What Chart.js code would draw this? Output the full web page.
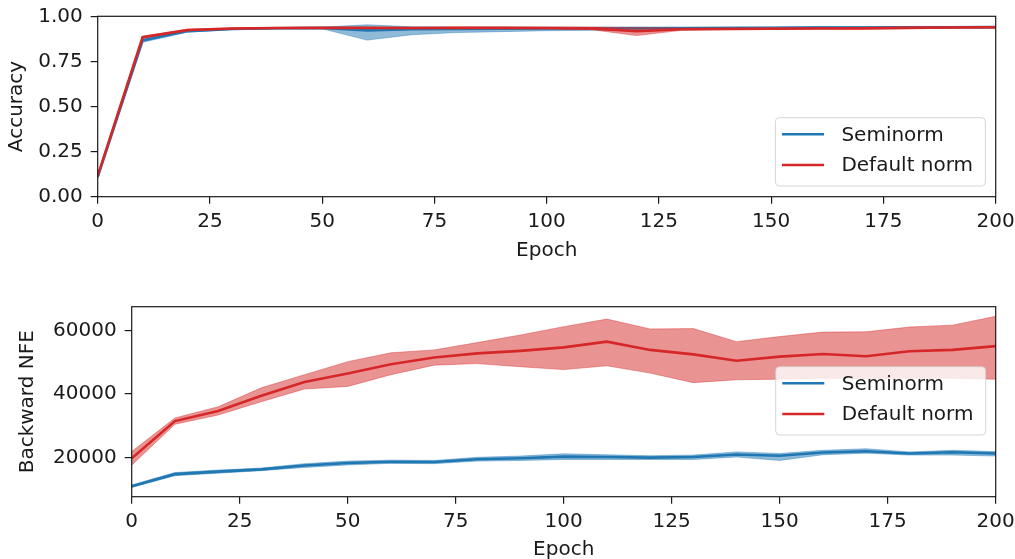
<!DOCTYPE html>
<html>
<head>
<meta charset="utf-8">
<script src="https://cdn.jsdelivr.net/npm/chart.js@4/dist/chart.umd.min.js"></script>
<style>
  html, body { margin: 0; padding: 0; background: #fff; }
  .wrap { position: absolute; left: 0; width: 1015px; }
  #top { top: 0; height: 270px; }
  #bottom { top: 280px; height: 279px; }
</style>
</head>
<body>
<div class="wrap" id="top"><canvas id="acc" width="1015" height="270"></canvas></div>
<div class="wrap" id="bottom"><canvas id="nfe" width="1015" height="279"></canvas></div>
<script>
const epochs = [0, 10, 20, 30, 40, 50, 60, 70, 80, 90, 100, 110, 120, 130, 140, 150, 160, 170, 180, 190, 200];
const seriesNames = ['Seminorm', 'Default norm'];

// accuracy (mean and band)
const accSemiMean  = [0.110, 0.866, 0.918, 0.930, 0.934, 0.935, 0.922, 0.928, 0.930, 0.931, 0.932, 0.932, 0.934, 0.934, 0.935, 0.935, 0.937, 0.938, 0.939, 0.939, 0.940];
const accSemiLower = [0.100, 0.856, 0.912, 0.926, 0.930, 0.931, 0.868, 0.898, 0.910, 0.915, 0.920, 0.922, 0.926, 0.928, 0.929, 0.930, 0.932, 0.933, 0.935, 0.935, 0.936];
const accSemiUpper = [0.120, 0.876, 0.924, 0.934, 0.938, 0.940, 0.953, 0.942, 0.940, 0.940, 0.940, 0.940, 0.941, 0.941, 0.941, 0.942, 0.943, 0.943, 0.944, 0.944, 0.944];
const accDefMean   = [0.115, 0.884, 0.924, 0.932, 0.935, 0.936, 0.936, 0.935, 0.936, 0.936, 0.935, 0.933, 0.917, 0.928, 0.930, 0.931, 0.932, 0.933, 0.936, 0.938, 0.939];
const accDefLower  = [0.105, 0.878, 0.919, 0.928, 0.931, 0.932, 0.932, 0.931, 0.932, 0.932, 0.930, 0.926, 0.893, 0.922, 0.926, 0.927, 0.928, 0.929, 0.932, 0.934, 0.935];
const accDefUpper  = [0.125, 0.890, 0.929, 0.936, 0.939, 0.940, 0.940, 0.939, 0.940, 0.940, 0.940, 0.940, 0.938, 0.935, 0.935, 0.936, 0.937, 0.938, 0.940, 0.942, 0.943];

// backward NFE (mean and band)
const nfeSemiMean  = [11000, 14800, 15600, 16300, 17500, 18300, 18700, 18600, 19500, 19800, 20300, 20200, 20000, 20200, 21000, 20600, 21600, 22000, 21300, 21700, 21300];
const nfeSemiLower = [10600, 14300, 15100, 15900, 16900, 17700, 18200, 18100, 18900, 19100, 19400, 19400, 19400, 19400, 20200, 19100, 20900, 21400, 20800, 20800, 20500];
const nfeSemiUpper = [11400, 15300, 16100, 16700, 18100, 18900, 19200, 19100, 20100, 20500, 21200, 20900, 20600, 20800, 21800, 21300, 22300, 22800, 21800, 22300, 21900];
const nfeDefMean   = [19800, 31500, 34700, 39500, 43800, 46500, 49400, 51500, 52800, 53600, 54700, 56500, 53900, 52500, 50500, 51800, 52600, 51900, 53500, 53900, 55100];
const nfeDefLower  = [17600, 30500, 33400, 37600, 41600, 42400, 46100, 49100, 49600, 48600, 47700, 48900, 46600, 43600, 44500, 44700, 45000, 44900, 45000, 45000, 44700];
const nfeDefUpper  = [21900, 32500, 36000, 42000, 46100, 50200, 53000, 53900, 56200, 58600, 61200, 63600, 60500, 60600, 56500, 58100, 59500, 59600, 61100, 61700, 64500];

const epochTicks = [0, 25, 50, 75, 100, 125, 150, 175, 200];
const accTicks = [0, 0.25, 0.5, 0.75, 1];
const nfeTicks = [20000, 40000, 60000];

const BLUE = '#1f77b4', RED = '#d62728';
const BLUE_A = 'rgba(31,119,180,0.5)', RED_A = 'rgba(214,39,40,0.5)';
const INK = '#1a1a1a';
const FONT = { family: "'DejaVu Sans', sans-serif", size: 20 };

Chart.defaults.font.family = FONT.family;
Chart.defaults.font.size = FONT.size;
Chart.defaults.color = INK;

const pts = arr => epochs.map((e, i) => ({ x: e, y: arr[i] }));

function band(lower, upper, fillColor, order) {
  return [
    { label: '', data: pts(upper), borderColor: fillColor, borderWidth: 0.8, backgroundColor: fillColor, fill: '+1', pointRadius: 0, order },
    { label: '', data: pts(lower), borderColor: fillColor, borderWidth: 0.8, fill: false, pointRadius: 0, order }
  ];
}

function mean(label, arr, color, order) {
  return { label, data: pts(arr), borderColor: color, backgroundColor: color, borderWidth: 2.6, fill: false, pointRadius: 0, order };
}

// frame around the plot, like matplotlib spines
const frame = {
  id: 'frame',
  afterDatasetsDraw(chart) {
    const { ctx, chartArea: a } = chart;
    ctx.save();
    ctx.strokeStyle = INK;
    ctx.lineWidth = 1.2;
    ctx.strokeRect(a.left, a.top, a.right - a.left, a.bottom - a.top);
    ctx.restore();
  }
};

// matplotlib-looking legend inside the axes
const boxLegend = {
  id: 'boxLegend',
  afterDraw(chart, args, opts) {
    const { ctx, chartArea: a } = chart;
    const items = chart.data.datasets.filter(d => d.label);
    const w = 210, h = 68.3, r = 4;
    const x = a.right - opts.right - w;
    const y = opts.top != null ? a.top + opts.top : a.bottom - opts.bottom - h;
    ctx.save();
    ctx.beginPath();
    ctx.roundRect(x, y, w, h, r);
    ctx.fillStyle = 'rgba(255,255,255,0.8)';
    ctx.fill();
    ctx.strokeStyle = 'rgba(204,204,204,0.8)';
    ctx.lineWidth = 1;
    ctx.stroke();
    ctx.font = `${FONT.size}px ${FONT.family}`;
    ctx.textBaseline = 'middle';
    ctx.fillStyle = INK;
    items.forEach((d, i) => {
      const cy = y + 16.6 + i * 30.7;
      ctx.beginPath();
      ctx.moveTo(x + 6.6, cy);
      ctx.lineTo(x + 48.6, cy);
      ctx.strokeStyle = d.borderColor;
      ctx.lineWidth = 2.6;
      ctx.stroke();
      ctx.fillText(d.label, x + 66, cy + 1);
    });
    ctx.restore();
  }
};

function tickGrid() {
  return { display: true, drawOnChartArea: false, drawTicks: true, tickLength: 7, color: INK, lineWidth: 1.2 };
}

function makeChart(id, datasets, cfg) {
  return new Chart(document.getElementById(id), {
    type: 'line',
    data: { datasets },
    plugins: [frame, boxLegend],
    options: {
      responsive: false,
      animation: false,
      devicePixelRatio: 1,
      layout: { padding: { top: cfg.top, right: 19.3, left: 0, bottom: 0 } },
      plugins: {
        legend: { display: false },
        tooltip: { enabled: false },
        boxLegend: cfg.legend
      },
      scales: {
        x: {
          type: 'linear',
          min: 0,
          max: 200,
          afterBuildTicks: s => { s.ticks = epochTicks.map(v => ({ value: v })); },
          afterFit: s => { s.height = cfg.xHeight; s.paddingLeft = 0; s.paddingRight = 0; },
          border: { display: false },
          grid: tickGrid(),
          ticks: { padding: 6, color: INK, maxRotation: 0 },
          title: { display: true, text: 'Epoch', color: INK, font: { lineHeight: 1 }, padding: { top: 0, bottom: cfg.xTitlePad } }
        },
        y: {
          min: cfg.yMin,
          max: cfg.yMax,
          afterBuildTicks: s => { s.ticks = cfg.yTicks.map(v => ({ value: v })); },
          afterFit: s => { s.width = cfg.yWidth; s.paddingTop = 0; s.paddingBottom = 0; },
          border: { display: false },
          grid: tickGrid(),
          ticks: { padding: 8, color: INK, callback: cfg.yFormat },
          title: { display: true, text: cfg.yTitle, color: INK, padding: { top: cfg.yTitlePad, bottom: 0 } }
        }
      }
    }
  });
}

makeChart('acc', [
  mean(seriesNames[0], accSemiMean, BLUE, 4),
  ...band(accSemiLower, accSemiUpper, BLUE_A, 3),
  mean(seriesNames[1], accDefMean, RED, 2),
  ...band(accDefLower, accDefUpper, RED_A, 1)
], {
  top: 16.3, xHeight: 73.3, yWidth: 97.7, xTitlePad: 9, yTitlePad: 4.7,
  yMin: 0, yMax: 1, yTicks: accTicks, yTitle: 'Accuracy',
  yFormat: v => Number(v).toFixed(2),
  legend: { right: 10.3, bottom: 10.7 }
});

makeChart('nfe', [
  mean(seriesNames[0], nfeSemiMean, BLUE, 4),
  ...band(nfeSemiLower, nfeSemiUpper, BLUE_A, 3),
  mean(seriesNames[1], nfeDefMean, RED, 2),
  ...band(nfeDefLower, nfeDefUpper, RED_A, 1)
], {
  top: 26.7, xHeight: 62.3, yWidth: 131.7, xTitlePad: -1, yTitlePad: 16,
  yMin: 7700, yMax: 67500, yTicks: nfeTicks, yTitle: 'Backward NFE',
  yFormat: v => String(v),
  legend: { right: 10, top: 60 }
});
</script>
</body>
</html>
